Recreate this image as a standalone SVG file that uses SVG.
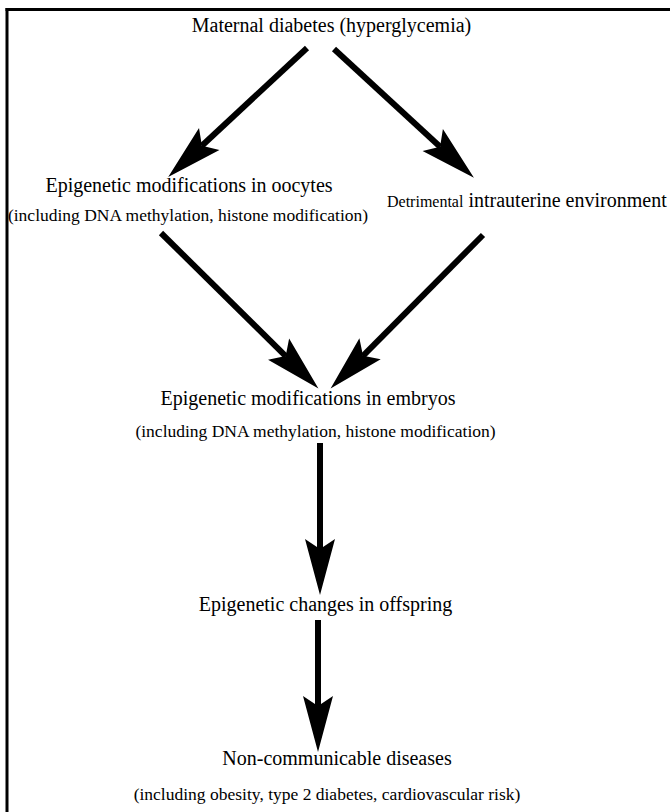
<svg xmlns="http://www.w3.org/2000/svg" width="670" height="812" viewBox="0 0 670 812">
<style>
  .t { font-family: "Liberation Serif", "Times New Roman", serif; font-size: 20px; fill: #000; }
  .s { font-family: "Liberation Serif", "Times New Roman", serif; font-size: 17.5px; fill: #000; }
  .sm { font-size: 16px; }
  .c { text-anchor: middle; }
  .shaft { stroke: #000; stroke-width: 6; fill: none; }
  .frame { stroke: #000; stroke-width: 3; fill: none; }
</style>
<defs>
  <marker id="head" markerUnits="userSpaceOnUse" viewBox="-12 -17 60 34" markerWidth="60" markerHeight="34" refX="0" refY="0" orient="auto" overflow="visible">
    <path d="M46,0 L-10,-15 L0,0 L-10,15 Z" fill="#000"/>
  </marker>
</defs>
<rect x="0" y="0" width="670" height="812" fill="#fff"/>
<g id="frame">
  <line class="frame" x1="5.5" y1="9.5" x2="670" y2="9.5"/>
  <line class="frame" x1="7" y1="8" x2="7" y2="812"/>
</g>
<g id="connectors">
  <line class="shaft" x1="307" y1="48" x2="201.9" y2="145.7" marker-end="url(#head)"/>
  <line class="shaft" x1="334" y1="49" x2="440.1" y2="146.7" marker-end="url(#head)"/>
  <line class="shaft" x1="161" y1="233" x2="285.7" y2="356.1" marker-end="url(#head)"/>
  <line class="shaft" x1="483" y1="235" x2="363.0" y2="355.8" marker-end="url(#head)"/>
  <line class="shaft" x1="320" y1="443" x2="320" y2="549" marker-end="url(#head)"/>
  <line class="shaft" x1="318" y1="620" x2="318" y2="706" marker-end="url(#head)"/>
</g>
<g id="maternal">
  <text class="t c" x="331.5" y="32">Maternal diabetes (hyperglycemia)</text>
</g>
<g id="oocytes">
  <text class="t c" x="189" y="192">Epigenetic modifications in oocytes</text>
  <text class="s c" x="188" y="221">(including DNA methylation, histone modification)</text>
</g>
<g id="intrauterine">
  <text class="t" x="387" y="207"><tspan class="sm">Detrimental</tspan> intrauterine environment</text>
</g>
<g id="embryos">
  <text class="t c" x="308" y="405">Epigenetic modifications in embryos</text>
  <text class="s c" x="315.5" y="437">(including DNA methylation, histone modification)</text>
</g>
<g id="offspring">
  <text class="t c" x="325.5" y="611">Epigenetic changes in offspring</text>
</g>
<g id="ncd">
  <text class="t c" x="337" y="765">Non-communicable diseases</text>
  <text class="s c" x="327" y="800">(including obesity, type 2 diabetes, cardiovascular risk)</text>
</g>
</svg>
